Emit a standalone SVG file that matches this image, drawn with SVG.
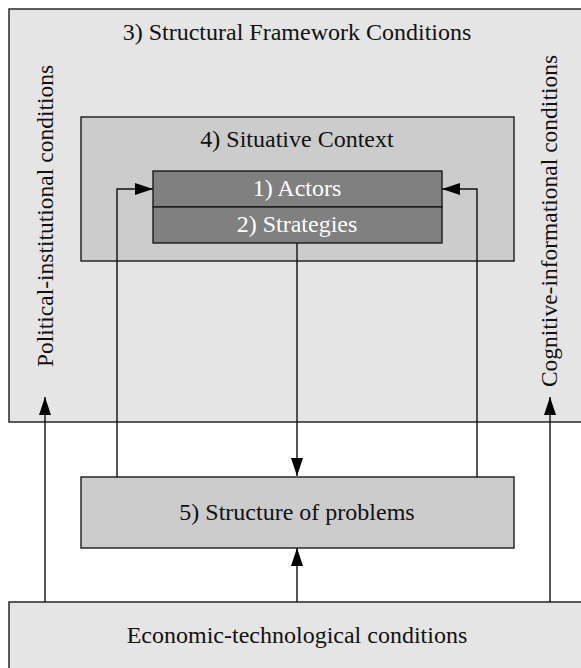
<svg xmlns="http://www.w3.org/2000/svg" width="581" height="668" viewBox="0 0 581 668">
  <style>
    .box { stroke: #1a1a1a; stroke-width: 1.4; }
    .light { fill: #e5e5e5; }
    .mid { fill: #cccccc; }
    .dark { fill: #808080; }
    .lbl { font-family: "Liberation Serif", "Times New Roman", serif; font-size: 24px; fill: #111; text-anchor: middle; }
    .side { font-size: 23.5px; }
    .inv { fill: #ffffff; }
    .wire { fill: none; stroke: #111; stroke-width: 1.4; }
  </style>
  <defs>
    <marker id="head" markerUnits="userSpaceOnUse" markerWidth="18" markerHeight="12" refX="18" refY="6" orient="auto">
      <path d="M0,0 L18,6 L0,12 z" fill="#000"/>
    </marker>
  </defs>
  <rect x="0" y="0" width="581" height="668" fill="#ffffff"/>

  <g id="framework">
    <rect class="box light" x="9" y="9" width="590" height="413"/>
    <text class="lbl" x="297" y="40">3) Structural Framework Conditions</text>
    <text class="lbl side" transform="translate(53,216) rotate(-90)">Political-institutional conditions</text>
    <text class="lbl side" transform="translate(557,221) rotate(-90)">Cognitive-informational conditions</text>
  </g>

  <g id="economic">
    <rect class="box light" x="9" y="602" width="590" height="90"/>
    <text class="lbl" x="297" y="643">Economic-technological conditions</text>
  </g>

  <g id="problems">
    <rect class="box mid" x="81" y="477" width="433" height="71"/>
    <text class="lbl" x="297" y="520">5) Structure of problems</text>
  </g>

  <g id="context">
    <rect class="box mid" x="81" y="117" width="433" height="144"/>
    <text class="lbl" x="297" y="147">4) Situative Context</text>
  </g>

  <g id="actors">
    <rect class="box dark" x="153" y="171" width="289" height="36"/>
    <text class="lbl inv" x="297" y="196">1) Actors</text>
  </g>

  <g id="strategies">
    <rect class="box dark" x="153" y="207" width="289" height="36"/>
    <text class="lbl inv" x="297" y="232">2) Strategies</text>
  </g>

  <g id="connectors">
    <path class="wire" d="M117,477 V189 H153" marker-end="url(#head)"/>
    <path class="wire" d="M477,477 V189 H442" marker-end="url(#head)"/>
    <path class="wire" d="M297,243 V476" marker-end="url(#head)"/>
    <path class="wire" d="M297,602 V548" marker-end="url(#head)"/>
    <path class="wire" d="M45,602 V397" marker-end="url(#head)"/>
    <path class="wire" d="M550,602 V397" marker-end="url(#head)"/>
  </g>
</svg>
